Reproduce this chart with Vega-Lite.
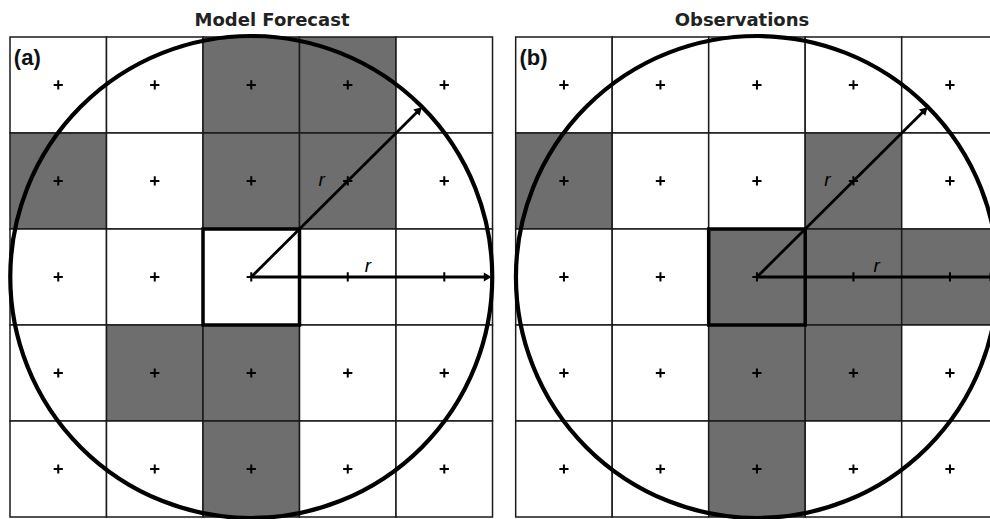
{
  "$schema": "https://vega.github.io/schema/vega-lite/v6.json",
  "width": 990,
  "height": 519,
  "padding": 0,
  "autosize": {"type": "fit", "contains": "padding"},
  "background": "#ffffff",
  "config": {"view": {"stroke": null}},
  "datasets": {
    "cells": [
      {"p":"a","x":0,"x2":1,"y":4,"y2":5,"cx":0.5,"cy":4.5,"s":"n"},
      {"p":"a","x":1,"x2":2,"y":4,"y2":5,"cx":1.5,"cy":4.5,"s":"n"},
      {"p":"a","x":2,"x2":3,"y":4,"y2":5,"cx":2.5,"cy":4.5,"s":"y"},
      {"p":"a","x":3,"x2":4,"y":4,"y2":5,"cx":3.5,"cy":4.5,"s":"y"},
      {"p":"a","x":4,"x2":5,"y":4,"y2":5,"cx":4.5,"cy":4.5,"s":"n"},
      {"p":"a","x":0,"x2":1,"y":3,"y2":4,"cx":0.5,"cy":3.5,"s":"y"},
      {"p":"a","x":1,"x2":2,"y":3,"y2":4,"cx":1.5,"cy":3.5,"s":"n"},
      {"p":"a","x":2,"x2":3,"y":3,"y2":4,"cx":2.5,"cy":3.5,"s":"y"},
      {"p":"a","x":3,"x2":4,"y":3,"y2":4,"cx":3.5,"cy":3.5,"s":"y"},
      {"p":"a","x":4,"x2":5,"y":3,"y2":4,"cx":4.5,"cy":3.5,"s":"n"},
      {"p":"a","x":0,"x2":1,"y":2,"y2":3,"cx":0.5,"cy":2.5,"s":"n"},
      {"p":"a","x":1,"x2":2,"y":2,"y2":3,"cx":1.5,"cy":2.5,"s":"n"},
      {"p":"a","x":2,"x2":3,"y":2,"y2":3,"cx":2.5,"cy":2.5,"s":"n"},
      {"p":"a","x":3,"x2":4,"y":2,"y2":3,"cx":3.5,"cy":2.5,"s":"n"},
      {"p":"a","x":4,"x2":5,"y":2,"y2":3,"cx":4.5,"cy":2.5,"s":"n"},
      {"p":"a","x":0,"x2":1,"y":1,"y2":2,"cx":0.5,"cy":1.5,"s":"n"},
      {"p":"a","x":1,"x2":2,"y":1,"y2":2,"cx":1.5,"cy":1.5,"s":"y"},
      {"p":"a","x":2,"x2":3,"y":1,"y2":2,"cx":2.5,"cy":1.5,"s":"y"},
      {"p":"a","x":3,"x2":4,"y":1,"y2":2,"cx":3.5,"cy":1.5,"s":"n"},
      {"p":"a","x":4,"x2":5,"y":1,"y2":2,"cx":4.5,"cy":1.5,"s":"n"},
      {"p":"a","x":0,"x2":1,"y":0,"y2":1,"cx":0.5,"cy":0.5,"s":"n"},
      {"p":"a","x":1,"x2":2,"y":0,"y2":1,"cx":1.5,"cy":0.5,"s":"n"},
      {"p":"a","x":2,"x2":3,"y":0,"y2":1,"cx":2.5,"cy":0.5,"s":"y"},
      {"p":"a","x":3,"x2":4,"y":0,"y2":1,"cx":3.5,"cy":0.5,"s":"n"},
      {"p":"a","x":4,"x2":5,"y":0,"y2":1,"cx":4.5,"cy":0.5,"s":"n"},
      {"p":"b","x":5.24,"x2":6.24,"y":4,"y2":5,"cx":5.74,"cy":4.5,"s":"n"},
      {"p":"b","x":6.24,"x2":7.24,"y":4,"y2":5,"cx":6.74,"cy":4.5,"s":"n"},
      {"p":"b","x":7.24,"x2":8.24,"y":4,"y2":5,"cx":7.74,"cy":4.5,"s":"n"},
      {"p":"b","x":8.24,"x2":9.24,"y":4,"y2":5,"cx":8.74,"cy":4.5,"s":"n"},
      {"p":"b","x":9.24,"x2":10.24,"y":4,"y2":5,"cx":9.74,"cy":4.5,"s":"n"},
      {"p":"b","x":5.24,"x2":6.24,"y":3,"y2":4,"cx":5.74,"cy":3.5,"s":"y"},
      {"p":"b","x":6.24,"x2":7.24,"y":3,"y2":4,"cx":6.74,"cy":3.5,"s":"n"},
      {"p":"b","x":7.24,"x2":8.24,"y":3,"y2":4,"cx":7.74,"cy":3.5,"s":"n"},
      {"p":"b","x":8.24,"x2":9.24,"y":3,"y2":4,"cx":8.74,"cy":3.5,"s":"y"},
      {"p":"b","x":9.24,"x2":10.24,"y":3,"y2":4,"cx":9.74,"cy":3.5,"s":"n"},
      {"p":"b","x":5.24,"x2":6.24,"y":2,"y2":3,"cx":5.74,"cy":2.5,"s":"n"},
      {"p":"b","x":6.24,"x2":7.24,"y":2,"y2":3,"cx":6.74,"cy":2.5,"s":"n"},
      {"p":"b","x":7.24,"x2":8.24,"y":2,"y2":3,"cx":7.74,"cy":2.5,"s":"y"},
      {"p":"b","x":8.24,"x2":9.24,"y":2,"y2":3,"cx":8.74,"cy":2.5,"s":"y"},
      {"p":"b","x":9.24,"x2":10.24,"y":2,"y2":3,"cx":9.74,"cy":2.5,"s":"y"},
      {"p":"b","x":5.24,"x2":6.24,"y":1,"y2":2,"cx":5.74,"cy":1.5,"s":"n"},
      {"p":"b","x":6.24,"x2":7.24,"y":1,"y2":2,"cx":6.74,"cy":1.5,"s":"n"},
      {"p":"b","x":7.24,"x2":8.24,"y":1,"y2":2,"cx":7.74,"cy":1.5,"s":"y"},
      {"p":"b","x":8.24,"x2":9.24,"y":1,"y2":2,"cx":8.74,"cy":1.5,"s":"y"},
      {"p":"b","x":9.24,"x2":10.24,"y":1,"y2":2,"cx":9.74,"cy":1.5,"s":"n"},
      {"p":"b","x":5.24,"x2":6.24,"y":0,"y2":1,"cx":5.74,"cy":0.5,"s":"n"},
      {"p":"b","x":6.24,"x2":7.24,"y":0,"y2":1,"cx":6.74,"cy":0.5,"s":"n"},
      {"p":"b","x":7.24,"x2":8.24,"y":0,"y2":1,"cx":7.74,"cy":0.5,"s":"y"},
      {"p":"b","x":8.24,"x2":9.24,"y":0,"y2":1,"cx":8.74,"cy":0.5,"s":"n"},
      {"p":"b","x":9.24,"x2":10.24,"y":0,"y2":1,"cx":9.74,"cy":0.5,"s":"n"}
    ],
    "squares": [
      {"p":"a","x":2,"x2":3,"y":2,"y2":3},
      {"p":"b","x":7.24,"x2":8.24,"y":2,"y2":3}
    ],
    "circles": [
      {"p":"a","x":2.5,"y":2.5},
      {"p":"b","x":7.74,"y":2.5}
    ],
    "arrows": [
      {"p":"a","k":"d","x":2.5,"y":2.5,"x2":4.24,"y2":4.24},
      {"p":"a","k":"h","x":2.5,"y":2.5,"x2":4.95,"y2":2.5},
      {"p":"b","k":"d","x":7.74,"y":2.5,"x2":9.48,"y2":4.24},
      {"p":"b","k":"h","x":7.74,"y":2.5,"x2":10.19,"y2":2.5}
    ],
    "rlabels": [
      {"p":"a","x":3.23,"y":3.51,"t":"r"},
      {"p":"a","x":3.71,"y":2.615,"t":"r"},
      {"p":"b","x":8.47,"y":3.51,"t":"r"},
      {"p":"b","x":8.98,"y":2.615,"t":"r"}
    ],
    "tags": [
      {"p":"a","x":0.04,"y":4.708,"t":"(a)"},
      {"p":"b","x":5.28,"y":4.708,"t":"(b)"}
    ],
    "titles": [
      {"p":"a","x":2.715,"y":5.115,"t":"Model Forecast"},
      {"p":"b","x":7.585,"y":5.115,"t":"Observations"}
    ]
  },
  "layer": [
    {
      "data": {"name": "cells"},
      "mark": {"type": "rect", "stroke": "#1a1a1a", "strokeWidth": 1.5, "clip": true},
      "encoding": {
        "x": {"field": "x", "type": "quantitative", "axis": null, "scale": {"domain": [-0.1036, 10.155], "nice": false, "zero": false}},
        "x2": {"field": "x2"},
        "y": {"field": "y", "type": "quantitative", "axis": null, "scale": {"domain": [-0.0208, 5.385], "nice": false, "zero": false}},
        "y2": {"field": "y2"},
        "fill": {"field": "s", "type": "nominal", "legend": null, "scale": {"domain": ["n", "y"], "range": ["#ffffff", "#6e6e6e"]}}
      }
    },
    {
      "data": {"name": "cells"},
      "mark": {"type": "point", "shape": "M-1,0L1,0M0,-1L0,1", "size": 85, "filled": false, "stroke": "#000000", "strokeWidth": 2, "opacity": 1, "clip": true},
      "encoding": {
        "x": {"field": "cx", "type": "quantitative"},
        "y": {"field": "cy", "type": "quantitative"}
      }
    },
    {
      "data": {"name": "squares"},
      "mark": {"type": "rect", "fill": null, "fillOpacity": 0, "stroke": "#000000", "strokeWidth": 3.5, "clip": true},
      "encoding": {
        "x": {"field": "x", "type": "quantitative"},
        "x2": {"field": "x2"},
        "y": {"field": "y", "type": "quantitative"},
        "y2": {"field": "y2"}
      }
    },
    {
      "data": {"name": "circles"},
      "mark": {"type": "point", "shape": "circle", "size": 232324, "filled": false, "stroke": "#000000", "strokeWidth": 4.2, "opacity": 1, "clip": true},
      "encoding": {
        "x": {"field": "x", "type": "quantitative"},
        "y": {"field": "y", "type": "quantitative"}
      }
    },
    {
      "data": {"name": "arrows"},
      "mark": {"type": "rule", "stroke": "#000000", "strokeWidth": 2.8, "clip": true},
      "encoding": {
        "x": {"field": "x", "type": "quantitative"},
        "y": {"field": "y", "type": "quantitative"},
        "x2": {"field": "x2"},
        "y2": {"field": "y2"}
      }
    },
    {
      "data": {"name": "arrows"},
      "transform": [{"filter": "datum.k === 'd'"}],
      "mark": {"type": "point", "shape": "triangle-right", "size": 80, "filled": true, "fill": "#000000", "opacity": 1, "angle": -45, "clip": true},
      "encoding": {
        "x": {"field": "x2", "type": "quantitative"},
        "y": {"field": "y2", "type": "quantitative"}
      }
    },
    {
      "data": {"name": "arrows"},
      "transform": [{"filter": "datum.k === 'h'"}],
      "mark": {"type": "point", "shape": "triangle-right", "size": 80, "filled": true, "fill": "#000000", "opacity": 1, "clip": true},
      "encoding": {
        "x": {"field": "x2", "type": "quantitative"},
        "y": {"field": "y2", "type": "quantitative"}
      }
    },
    {
      "data": {"name": "rlabels"},
      "mark": {"type": "text", "font": "Liberation Sans", "fontSize": 19, "fontStyle": "italic", "align": "center", "baseline": "middle", "color": "#000000", "clip": true},
      "encoding": {
        "x": {"field": "x", "type": "quantitative"},
        "y": {"field": "y", "type": "quantitative"},
        "text": {"field": "t"}
      }
    },
    {
      "data": {"name": "tags"},
      "mark": {"type": "text", "font": "Liberation Sans", "fontSize": 22, "fontWeight": "bold", "align": "left", "baseline": "alphabetic", "color": "#111111", "clip": true},
      "encoding": {
        "x": {"field": "x", "type": "quantitative"},
        "y": {"field": "y", "type": "quantitative"},
        "text": {"field": "t"}
      }
    },
    {
      "data": {"name": "titles"},
      "mark": {"type": "text", "font": "DejaVu Sans", "fontSize": 18, "fontWeight": "bold", "align": "center", "baseline": "alphabetic", "color": "#222222", "clip": true},
      "encoding": {
        "x": {"field": "x", "type": "quantitative"},
        "y": {"field": "y", "type": "quantitative"},
        "text": {"field": "t"}
      }
    }
  ]
}
